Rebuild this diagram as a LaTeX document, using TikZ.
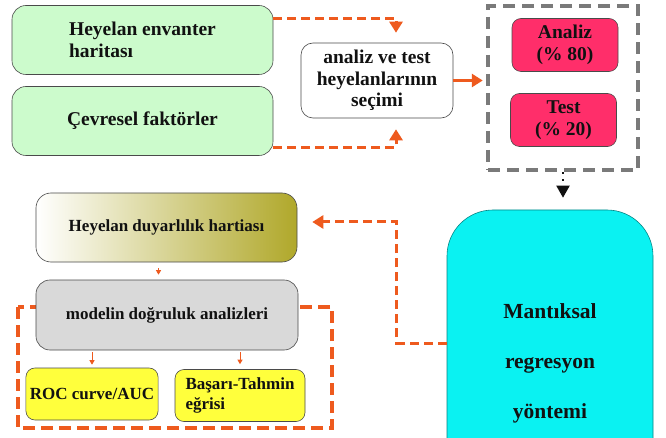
\documentclass[tikz,border=0pt]{standalone}
\usepackage{fontspec}
\setmainfont{Liberation Serif}
\usetikzlibrary{arrows.meta, positioning, calc}
\definecolor{ink}{HTML}{111111}
\definecolor{edge}{HTML}{4A4A4A}
\definecolor{mint}{HTML}{CCFBCC}
\definecolor{rose}{HTML}{FF2E6A}
\definecolor{aqua}{HTML}{0AF2F2}
\definecolor{olive}{HTML}{B0A82A}
\definecolor{stone}{HTML}{D9D9D9}
\definecolor{lemon}{HTML}{FFFF3C}
\definecolor{flame}{HTML}{EE5A1E}
\definecolor{slate}{HTML}{7A7A7A}
\tikzset{
  font=\bfseries\fontsize{19.5}{21.7}\selectfont,
  %
  box/.style={
    draw=edge, line width=0.6pt, fill=white, rounded corners=14pt,
    inner sep=4pt, align=center, text=ink,
  },
  boxm/.style={box, fill=mint, minimum width=261pt, minimum height=69pt},
  boxr/.style={box, fill=rose, rounded corners=9pt, minimum width=106pt, minimum height=53pt},
  boxc/.style={box, fill=aqua, draw=aqua!55!black, rounded corners=46pt},
  boxs/.style={box, fill=stone, minimum width=262pt, minimum height=70pt,
               font=\bfseries\fontsize{17}{20}\selectfont},
  boxy/.style={box, fill=lemon, rounded corners=9pt, minimum width=130pt, minimum height=52pt,
               font=\bfseries\fontsize{17}{20}\selectfont},
  %
  flow/.style={draw=flame, line width=3pt, -{Triangle[length=11pt, width=13pt]}},
  flowdash/.style={flow, dash pattern=on 9pt off 5pt},
  flowtiny/.style={draw=flame, line width=0.8pt, -{Triangle[length=4.5pt, width=5pt]}},
  flowblack/.style={draw=ink, line width=2pt, dash pattern=on 2pt off 5pt,
                    -{Triangle[length=12pt, width=13pt]}},
  frame/.style={draw=flame, line width=4.5pt, dash pattern=on 12pt off 6pt},
  framegray/.style={draw=slate, line width=4.5pt, dash pattern=on 12pt off 7pt,
                    minimum width=150pt, minimum height=164pt},
}
\begin{document}
\begin{tikzpicture}[x=1pt, y=-1pt]
\clip (0,0) rectangle (666,438);
\fill[white] (0,0) rectangle (666,438);

% input maps
\node[boxm, align=left] (inv) at (142.5,40) {Heyelan envanter\\haritası};
\node[boxm] (env) at (142.5,121) {Çevresel faktörler};
\node[box, rounded corners=12pt, minimum width=152pt, minimum height=75pt]
  (sel) at (377,80.5) {analiz ve test\\heyelanlarının\\seçimi};

% split into analysis / test
\node[framegray] (spl) at (563,88) {};
\node[boxr] (ana) at (565,45) {Analiz\\(\% 80)};
\node[boxr] (tst) at (563.5,120) {Test\\(\% 20)};

% method
\node[boxc, minimum width=206pt, minimum height=306pt,
      font=\bfseries\fontsize{21.5}{50}\selectfont]
  (mlr) at (550,363) {Mantıksal\\regresyon\\yöntemi};

% validation
\draw[frame] (18,307) rectangle (332,428);
\node[box, rounded corners=15pt, minimum width=261pt, minimum height=69pt,
      left color=white, right color=olive, font=\bfseries\fontsize{17}{20}\selectfont]
  (hdh) at (166.5,227.5) {Heyelan duyarlılık hartiası};
\node[boxs] (mda) at (167,315) {modelin doğruluk analizleri};
\node[boxy] (roc) at (92,394) {ROC curve/AUC};
\node[boxy, align=left] (bts) at (240,395.5) {Başarı-Tahmin\\eğrisi};

% connectors
\draw[flowdash] ([yshift=-13pt]inv.north east) -| ([xshift=19pt, yshift=10pt]sel.north);
\draw[flowdash] ([yshift=8pt]env.south east) -| ([xshift=19pt, yshift=-11pt]sel.south);
\draw[flow] (sel.east) -- ([xshift=-3pt]sel.east -| spl.west);
\draw[flowblack] (spl.south) -- ([yshift=12pt]spl.south |- mlr.north);
\draw[flowdash] ([yshift=20pt]mlr.west) -- ++(-50,0)
  |- ([xshift=15pt, yshift=5.5pt]hdh.east);
\draw[flowtiny] ([xshift=-8pt, yshift=-6pt]hdh.south)
  -- ([xshift=-8pt, yshift=5pt]hdh.south |- mda.north);
\draw[flowtiny] ([yshift=-2pt]roc.north |- mda.south) -- ([yshift=3pt]roc.north);
\draw[flowtiny] ([yshift=-2pt]bts.north |- mda.south) -- ([yshift=5pt]bts.north);

\end{tikzpicture}
\end{document}
